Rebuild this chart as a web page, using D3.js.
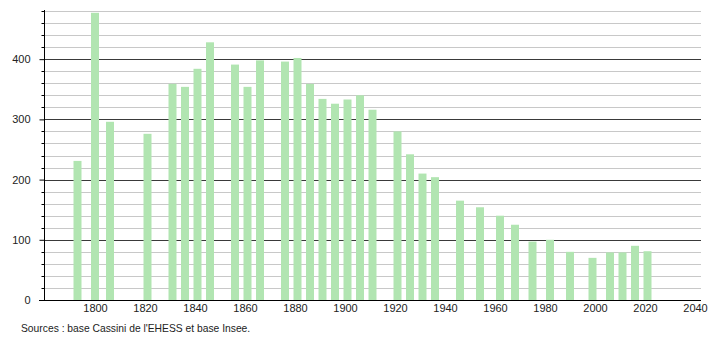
<!DOCTYPE html>
<html lang="fr">
<head>
  <meta charset="UTF-8" />
  <title>Population</title>
  <script src="https://d3js.org/d3.v7.min.js"></script>
  <style>
    body {
      margin: 0;
      background: #ffffff;
      font-family: 'Liberation Sans', Arial, sans-serif;
    }
    svg { display: block; }
    .tick text { font-size: 11px; fill: #222; }
  </style>
</head>
<body>
  <svg id="chart" width="710" height="340"></svg>

  <script>
    // census years and population
    const years = [1793, 1800, 1806, 1821, 1831, 1836, 1841, 1846, 1856, 1861, 1866,
      1876, 1881, 1886, 1891, 1896, 1901, 1906, 1911, 1921, 1926, 1931, 1936,
      1946, 1954, 1962, 1968, 1975, 1982, 1990, 1999, 2006, 2011, 2016, 2021];
    const population = [231, 477, 296, 276, 359, 354, 384, 428, 391, 354, 398,
      396, 402, 359, 334, 326, 333, 340, 316, 280, 242, 210, 204,
      165, 154, 140, 125, 97, 100, 80, 70, 79, 79, 90, 81];
    const yTicks = [0, 100, 200, 300, 400];
    const xTicks = [1800, 1820, 1840, 1860, 1880, 1900, 1920, 1940, 1960, 1980, 2000, 2020, 2040];
    const sourceText = "Sources : base Cassini de l'EHESS et base Insee.";

    const svg = d3.select("#chart");
    const mLeft = 44, mRight = 701, mTop = 11, mBottom = 300;

    const x = d3.scaleLinear().domain([1779.6, 2042.4]).range([mLeft, mRight]);
    const y = d3.scaleLinear().domain([0, 480]).range([mBottom, mTop]);

    // grid lines every 20
    const grid = svg.append("g");
    grid.selectAll("line")
      .data(d3.range(20, 481, 20))
      .join("line")
      .attr("x1", mLeft).attr("x2", mRight)
      .attr("y1", d => Math.round(y(d)) + 0.5)
      .attr("y2", d => Math.round(y(d)) + 0.5)
      .attr("stroke", d => d % 100 === 0 ? "#3a3a3a" : "#c8c8c8")
      .attr("stroke-width", 1);

    // bars
    const barW = 8;
    svg.append("g")
      .selectAll("rect")
      .data(years.map((yr, i) => ({ yr, v: population[i] })))
      .join("rect")
      .attr("x", d => x(d.yr) - barW / 2)
      .attr("y", d => y(d.v))
      .attr("width", barW)
      .attr("height", d => mBottom - y(d.v))
      .attr("fill", "#b1e5b1");

    // y axis with minor ticks
    const yAxisG = svg.append("g").attr("transform", `translate(${mLeft + 0.5},0)`);
    yAxisG.append("line")
      .attr("x1", 0).attr("x2", 0)
      .attr("y1", 10).attr("y2", mBottom)
      .attr("stroke", "#000");
    yAxisG.selectAll("line.minor")
      .data(d3.range(20, 481, 20).filter(d => d % 100 !== 0))
      .join("line")
      .attr("class", "minor")
      .attr("x1", -3).attr("x2", 0)
      .attr("y1", d => Math.round(y(d)) + 0.5)
      .attr("y2", d => Math.round(y(d)) + 0.5)
      .attr("stroke", "#000");
    const yAxis = d3.axisLeft(y).tickValues(yTicks).tickSize(5).tickPadding(9);
    yAxisG.append("g").call(yAxis)
      .call(g => g.select(".domain").remove())
      .call(g => g.selectAll(".tick line").attr("stroke", "#000"))
      .call(g => g.selectAll(".tick text").style("font-family", "'Liberation Sans', Arial, sans-serif"));

    // x axis
    const xAxisG = svg.append("g").attr("transform", `translate(0,${mBottom + 0.5})`);
    xAxisG.append("line")
      .attr("x1", 39).attr("x2", mRight)
      .attr("stroke", "#000");
    xAxisG.append("g")
      .call(d3.axisBottom(x).tickValues(xTicks).tickFormat(d3.format("d")).tickSize(0).tickPadding(4))
      .call(g => g.select(".domain").remove())
      .call(g => g.selectAll(".tick text").style("font-family", "'Liberation Sans', Arial, sans-serif"));

    // source note
    svg.append("text")
      .attr("x", 21).attr("y", 332)
      .attr("font-size", 10.3)
      .attr("fill", "#222")
      .text(sourceText);
  </script>
</body>
</html>
